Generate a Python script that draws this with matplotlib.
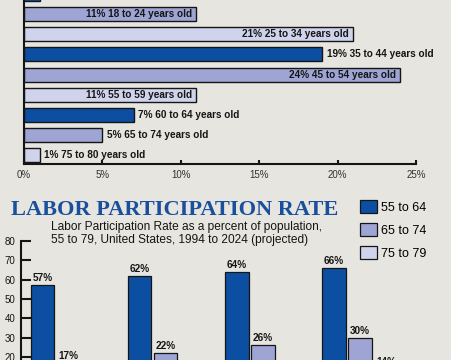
import numpy as np
import matplotlib.pyplot as plt

# top chart: share of population by age group (first row is cut off at the top)
age_groups = ['16 to 17', '18 to 24', '25 to 34', '35 to 44', '45 to 54',
              '55 to 59', '60 to 64', '65 to 74', '75 to 80']
age_share = [1, 11, 21, 19, 24, 11, 7, 5, 1]

# bottom chart: labor participation rate
years = ['1994', '2004', '2014', '2024']
series_names = ['55 to 64', '65 to 74', '75 to 79']
rate_55_64 = [57, 62, 64, 66]
rate_65_74 = [17, 22, 26, 30]
rate_75_79 = [8, 10, 12, 14]

bg = '#e6e5df'
dark = '#0c4fa2'
mid = '#9ea5d5'
light = '#cfd3ec'
title_blue = '#1a4f9e'
ink = '#151515'
palette = [dark, mid, light]

W, H = 452, 360
fig = plt.figure(figsize=(W / 100, H / 100), dpi=100, facecolor=bg)
sans = ['Liberation Sans', 'DejaVu Sans']

# ---- top horizontal bar chart ----
row_px = 20.1
ylo, yhi = -0.45, 8.65
ax1 = fig.add_axes([24 / W, (H - 164) / H, 392 / W, (yhi - ylo) * row_px / H])
ax1.set_facecolor('none')
n = len(age_groups)
ypos = np.arange(n)[::-1]
colors = [palette[i % 3] for i in range(n)]
ax1.barh(ypos, age_share, height=0.7, color=colors, edgecolor=ink, linewidth=1)
# the first row sits above the top edge, its label is not shown
for y, v, name, c in list(zip(ypos, age_share, age_groups, colors))[1:]:
    label = f'{v}% {name} years old'
    if c != dark and v >= 10:
        ax1.text(v - 0.28, y, label, ha='right', va='center', fontsize=7.2,
                 fontweight='bold', family=sans, color=ink)
    else:
        ax1.text(v + 0.3, y, label, ha='left', va='center', fontsize=7.2,
                 fontweight='bold', family=sans, color=ink)
ax1.set_xlim(0, 25)
ax1.set_ylim(ylo, yhi)
ax1.set_xticks(range(0, 26, 5))
ax1.set_xticklabels([f'{t}%' for t in range(0, 26, 5)], family=sans)
ax1.set_yticks([])
ax1.tick_params(axis='x', direction='in', length=3, width=1.5, labelsize=7,
                pad=4.5, colors=ink, labelcolor='#333333')
for s in ['top', 'right']:
    ax1.spines[s].set_visible(False)
for s in ['left', 'bottom']:
    ax1.spines[s].set_linewidth(1.5)
    ax1.spines[s].set_color(ink)

# ---- bottom grouped bar chart ----
grp_px = 97.2
x0 = (21 - 68.45) / grp_px
x1 = (452 - 68.45) / grp_px
ax2 = fig.add_axes([21 / W, (H - 395.7) / H, 431 / W, 154.7 / H])
ax2.set_facecolor('none')
x = np.arange(len(years))
step = 26 / grp_px
bw = 23.5 / grp_px
handles = []
for j, vals in enumerate([rate_55_64, rate_65_74, rate_75_79]):
    bars = ax2.bar(x + (j - 1) * step, vals, width=bw, color=palette[j],
                   edgecolor=ink, linewidth=0.9, label=series_names[j])
    ax2.bar_label(bars, labels=[f'{v}%' for v in vals], padding=1.5,
                  fontsize=7.2, fontweight='bold', family=sans, color=ink)
    handles.append(bars)
ax2.set_xlim(x0, x1)
ax2.set_ylim(0, 80)
ax2.set_yticks(range(0, 81, 10))
ax2.set_yticklabels([str(t) for t in range(0, 81, 10)], family=sans)
ax2.set_xticks(x)
ax2.set_xticklabels(years)
ax2.tick_params(axis='y', direction='in', length=7, width=1.5, labelsize=7,
                pad=4, colors=ink)
ax2.tick_params(axis='x', length=0)
for s in ['top', 'right', 'bottom']:
    ax2.spines[s].set_visible(False)
ax2.spines['left'].set_linewidth(1.5)
ax2.spines['left'].set_color(ink)

fig.text(11 / W, 1 - 215 / H, 'LABOR PARTICIPATION RATE', family='Liberation Serif',
         fontweight='bold', fontsize=16.1, color=title_blue, va='baseline')
fig.text(51 / W, 1 - 230 / H, 'Labor Participation Rate as a percent of population,',
         family=sans, fontsize=8.6, color=ink, va='baseline')
fig.text(51 / W, 1 - 243.5 / H, '55 to 79, United States, 1994 to 2024 (projected)',
         family=sans, fontsize=8.6, color=ink, va='baseline')

fig.legend(handles=handles, labels=series_names, loc='upper left',
           bbox_to_anchor=(360 / W, 1 - 200 / H), bbox_transform=fig.transFigure,
           frameon=False, prop={'family': sans, 'size': 9},
           handlelength=1.36, handleheight=1.28, handletextpad=0.32,
           labelspacing=0.72, borderpad=0, borderaxespad=0)

fig.savefig('out.png', dpi=100, facecolor=bg)
